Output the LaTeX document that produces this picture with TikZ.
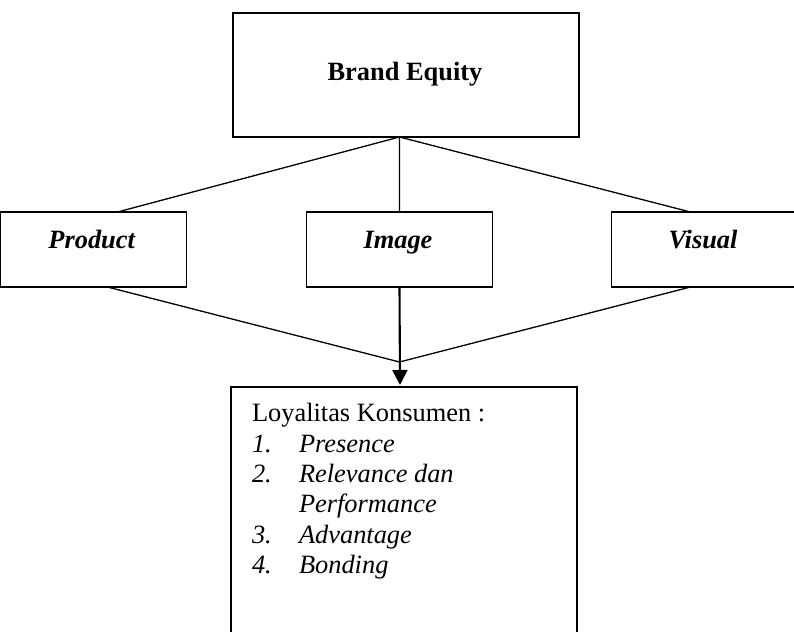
\documentclass[tikz,border=0pt]{standalone}
\usepackage{fontspec}
\setmainfont{Liberation Serif}
\usetikzlibrary{arrows.meta,calc}
\begin{document}
\begin{tikzpicture}[x=0.5pt,y=-0.5pt,
  box/.style={draw, line width=0.65pt, inner sep=0pt, outer sep=0pt},
  txt/.style={font=\fontsize{13.2}{15.25}\selectfont, inner sep=0pt, outer sep=0pt},
  conn/.style={line width=0.65pt},
  arr/.style={line width=1.05pt, -{Triangle[length=7.5pt,width=7.5pt]}, shorten >=1pt}]
\useasboundingbox (0,0) rectangle (794,632);
\clip (0,0) rectangle (794,632);
% boxes
\node[box, line width=0.95pt, minimum width=173pt, minimum height=62pt] (brand) at (406,75) {};
\node[box, minimum width=93pt, minimum height=37.5pt] (prod) at (93.5,249.5) {};
\node[box, minimum width=93pt, minimum height=37.5pt] (img) at (399.5,249.5) {};
\node[box, minimum width=92pt, minimum height=37.5pt] (vis) at (703.5,249.5) {};
\node[box, minimum width=173pt, minimum height=126.5pt] (loy) at (404,513.5) {};
% texts
\node[txt, anchor=base] (brandt) at (405,80) {\textbf{Brand Equity}};
\node[txt, anchor=base] (prodt) at (92,248) {\textbf{\textit{Product}}};
\node[txt, anchor=base] (imgt) at (398,248) {\textbf{\textit{Image}}};
\node[txt, anchor=base] (vist) at (703,248) {\textbf{\textit{Visual}}};
\node[txt, anchor=base west] (loyt) at (252,421) {Loyalitas Konsumen :};
\node[txt, anchor=base west] (n1) at (252,452) {\textit{1.}};
\node[txt, anchor=base west] (i1) at (299,452) {\textit{Presence}};
\node[txt, anchor=base west] (n2) at (252,482) {\textit{2.}};
\node[txt, anchor=base west] (i2) at (299,482) {\textit{Relevance dan}};
\node[txt, anchor=base west] (i2b) at (299,512) {\textit{Performance}};
\node[txt, anchor=base west] (n3) at (252,543) {\textit{3.}};
\node[txt, anchor=base west] (i3) at (299,543) {\textit{Advantage}};
\node[txt, anchor=base west] (n4) at (252,573) {\textit{4.}};
\node[txt, anchor=base west] (i4) at (299,573) {\textit{Bonding}};
% connectors
\coordinate (apex) at ($(brand.south west)!0.4812!(brand.south east)$);
\coordinate (conv) at (399.5,362);
\draw[conn] (apex) -- ($(prod.north west)!0.629!(prod.north east)$);
\draw[conn] (apex) -- ($(img.north west)!0.5!(img.north east)$);
\draw[conn] (apex) -- ($(vis.north west)!0.429!(vis.north east)$);
\draw[conn] ($(prod.south west)!0.575!(prod.south east)$) -- (conv);
\draw[conn] ($(vis.south west)!0.429!(vis.south east)$) -- (conv);
\draw[arr] ($(img.south west)!0.5!(img.south east)$) -- ($(loy.north west)!0.4885!(loy.north east)$);
\end{tikzpicture}
\end{document}
